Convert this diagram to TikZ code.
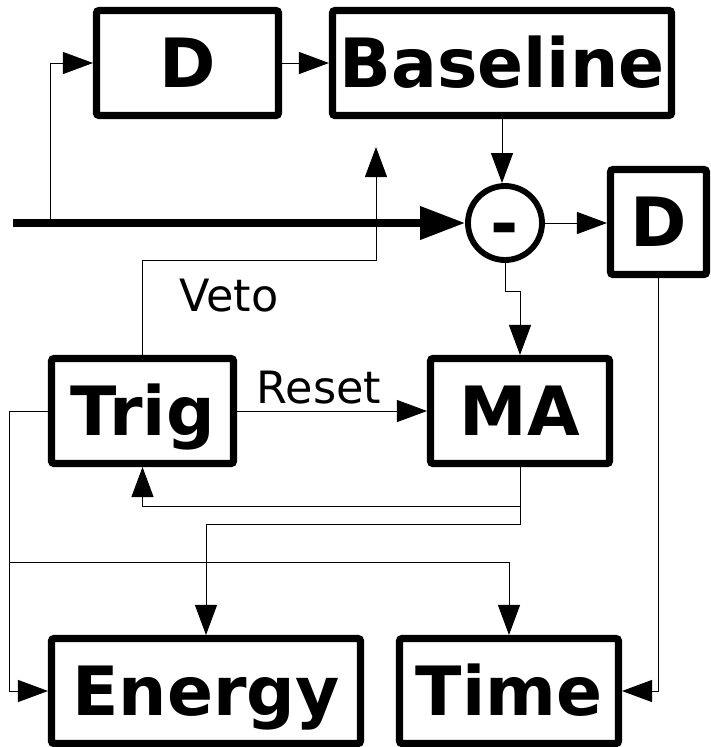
\documentclass[tikz,border=0pt]{standalone}
\usepackage{fontspec}
\setmainfont{DejaVu Sans}
\usetikzlibrary{arrows.meta,positioning}

\begin{document}
\begin{tikzpicture}[
    x=0.03cm, y=-0.03cm,
    block/.style={draw,line width=6pt,rounded corners=2pt,inner sep=0pt,minimum height=3.15cm,font=\fontsize{58}{60}\selectfont\bfseries,text height=42pt,text depth=0pt},
    sumnode/.style={draw,circle,line width=5pt,inner sep=0pt,minimum size=2.22cm,font=\fontsize{58}{60}\selectfont\bfseries,text height=41pt,text depth=0pt},
    lbl/.style={font=\fontsize{38}{40}\selectfont},
    arrow/.style={-{Triangle[length=0.9cm,width=0.66cm]},line width=0.85pt},
    bigarrow/.style={-{Triangle[length=1.35cm,width=0.96cm]},line width=6pt}
  ]
  \useasboundingbox (0,0) rectangle (711,747);
  % blocks (1 unit = 1 px of the drawing)
  \node[block,minimum width=5.46cm] (dlead) at (187.5,63) {D};
  \node[block,minimum width=10.17cm] (base) at (502,63) {Baseline};
  \node[sumnode] (sub) at (505,223) {-};
  \node[block,minimum width=2.88cm] (dtrail) at (658.5,222) {D};
  \node[block,minimum width=5.46cm] (trig) at (142.5,411) {Trig};
  \node[block,minimum width=5.37cm] (ma) at (520,411) {MA};
  \node[block,minimum width=9.27cm] (energy) at (206,691) {Energy};
  \node[block,minimum width=6.57cm] (time) at (509,691) {Time};
  \node[lbl] (veto) at (229,296) {Veto};
  \node[lbl] (reset) at (319,388) {Reset};
  % free ends
  \coordinate (in) at (13,223);
  \coordinate (tap) at (50,223);
  \coordinate (vetobend) at (376,260);
  \coordinate (vetoend) at (376,147);
  \coordinate (split) at (10,562);
  % signal path
  \draw[bigarrow] (in) -- (sub);
  \draw[arrow] (tap) |- (dlead.west);
  \draw[arrow] (dlead) -- (base);
  \draw[arrow] (base.south) -- (base.south |- sub.north);
  \draw[arrow] (sub.east) -- (sub.east -| dtrail.west);
  \draw[arrow] (sub.south) -- ++(0,29) -| (ma.north);
  \draw[arrow] (trig.north) |- (vetobend) -- (vetoend);
  \draw[arrow] (trig.east) -- (ma.west);
  \draw[arrow] (trig.west) -- ++(-38,0) |- (energy.west);
  \draw[arrow] (ma.south) -- ++(0,39) -| (trig.south);
  \draw[arrow] (ma.south) -- ++(0,57) -| (energy.north);
  \draw[arrow] (split) -| (time.north);
  \draw[arrow] (dtrail.south) |- (time.east);
\end{tikzpicture}
\end{document}
